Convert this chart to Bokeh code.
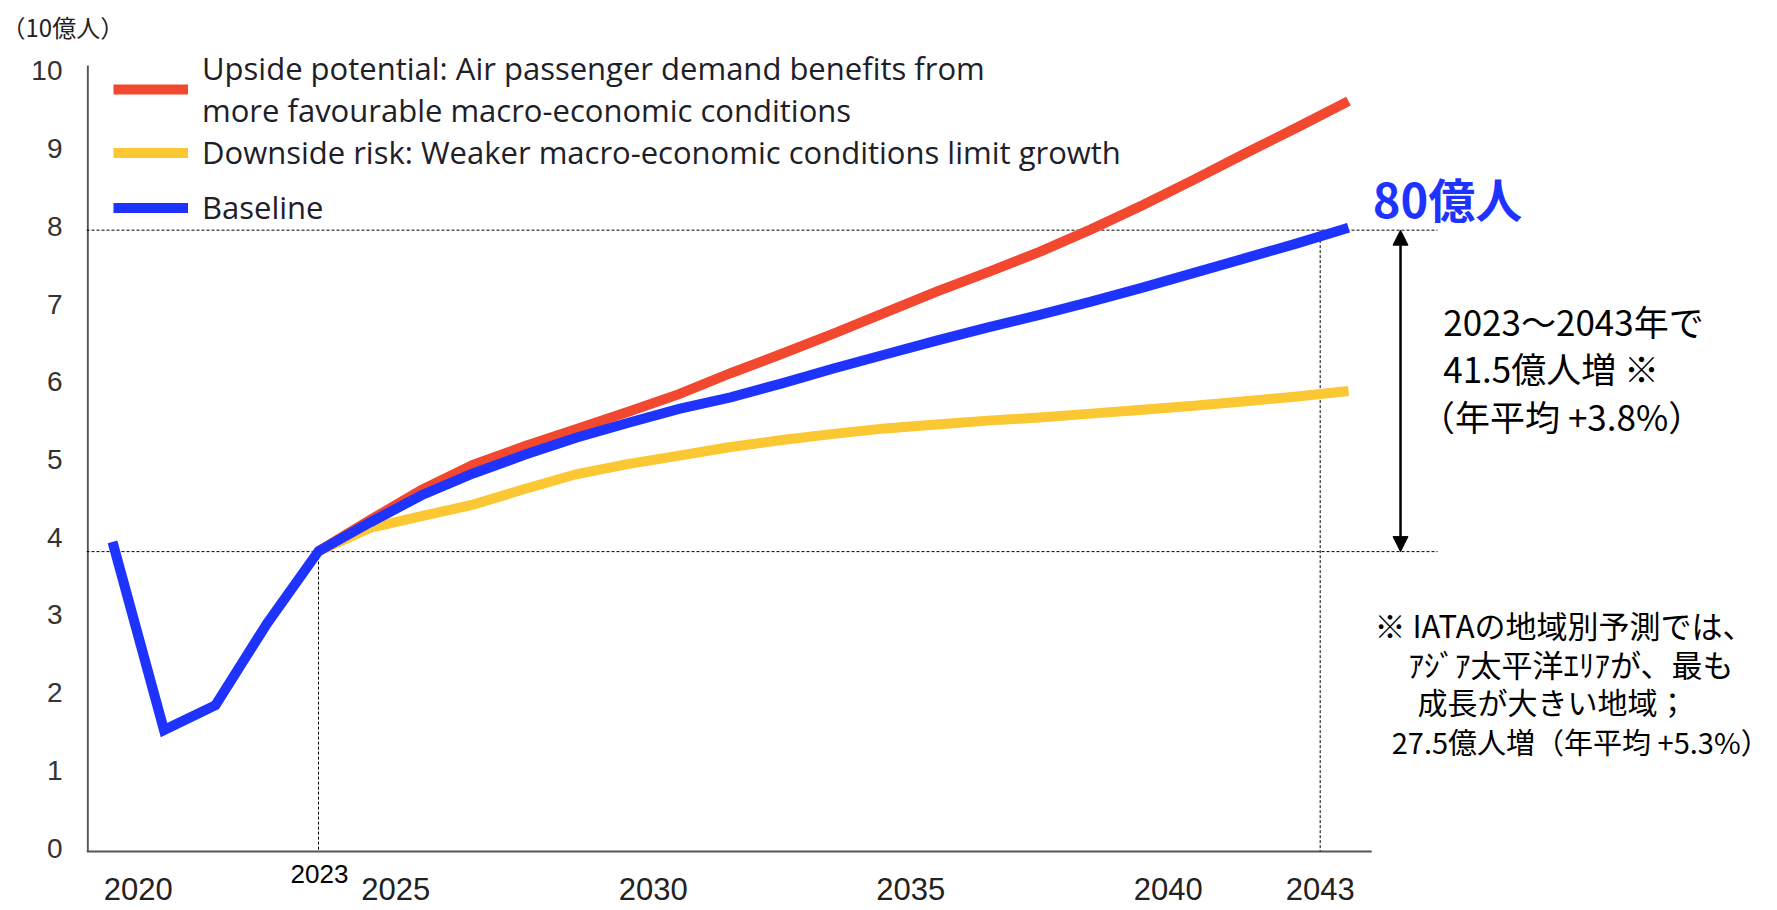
from bokeh.plotting import figure
from bokeh.models import (Range1d, FixedTicker, Label, Arrow, NormalHead, Legend, LegendItem)
from bokeh.embed import file_html
from bokeh.resources import INLINE
from bokeh.core.properties import value

# ---------------- data (10億人) ----------------
years_all = [2019, 2020, 2021, 2022, 2023, 2024, 2025, 2026, 2027, 2028, 2029, 2030,
             2031, 2032, 2033, 2034, 2035, 2036, 2037, 2038, 2039, 2040, 2041, 2042, 2043]
baseline = [3.94, 1.52, 1.84, 2.89, 3.82, 4.19, 4.54, 4.82, 5.06, 5.28, 5.47, 5.65,
            5.80, 5.98, 6.17, 6.35, 6.53, 6.70, 6.86, 7.03, 7.21, 7.40, 7.59, 7.78, 7.98]
years_fc = [2023, 2024, 2025, 2026, 2027, 2028, 2029, 2030, 2031, 2032, 2033,
            2034, 2035, 2036, 2037, 2038, 2039, 2040, 2041, 2042, 2043]
upside = [3.82, 4.22, 4.61, 4.93, 5.17, 5.39, 5.61, 5.84, 6.11, 6.36, 6.62,
          6.89, 7.16, 7.41, 7.67, 7.96, 8.27, 8.60, 8.94, 9.27, 9.61]
downside = [3.82, 4.12, 4.27, 4.42, 4.62, 4.81, 4.94, 5.05, 5.16, 5.25, 5.33,
            5.40, 5.45, 5.50, 5.54, 5.59, 5.64, 5.69, 5.75, 5.81, 5.88]

y_ticks = [0, 1, 2, 3, 4, 5, 6, 7, 8, 9, 10]
x_tick_pos = [2019.5, 2024.5, 2029.5, 2034.5, 2039.5, 2042.45]
x_tick_labels = ["2020", "2025", "2030", "2035", "2040", "2043"]

start_year, start_level = 2023, 3.815     # 2023 level guide
mark_year, end_level = 2042.45, 7.95      # 80億人 guide

label_up = "Upside potential: Air passenger demand benefits from\nmore favourable macro-economic conditions"
label_down = "Downside risk: Weaker macro-economic conditions limit growth"
label_base = "Baseline"

RED = "#F2482F"
YELLOW = "#FBC733"
BLUE = "#1F33FF"
JP = "Noto Sans CJK JP"

# ---------------- figure ----------------
x0, x1 = 2018.495, 2051.33
y0, y1 = -0.776, 10.287
axis_y = -0.042          # level of the drawn x axis line
p = figure(width=1777, height=908, x_range=Range1d(x0, x1), y_range=Range1d(y0, y1),
           output_backend="svg", toolbar_location=None, x_axis_location=None,
           min_border_left=86, min_border_right=0, min_border_top=48, min_border_bottom=0)
p.outline_line_color = None
p.grid.visible = False

# unit caption as title (top-left)
p.title.text = "（10億人）"
p.title.text_font = JP
p.title.text_font_size = "24px"
p.title.text_font_style = "normal"
p.title.text_color = "#222222"
p.title.align = "left"
p.title.offset = -85
p.title.standoff = 10

# y axis (labels from the axis, axis line drawn below)
p.yaxis.ticker = FixedTicker(ticks=y_ticks)
p.yaxis.major_tick_line_color = None
p.yaxis.minor_tick_line_color = None
p.yaxis.major_tick_out = 0
p.yaxis.major_label_standoff = 24
p.yaxis.major_label_text_font = "Liberation Sans"
p.yaxis.major_label_text_font_size = "28px"
p.yaxis.major_label_text_color = "#333333"
p.yaxis.axis_line_color = None

# axis lines
p.segment(x0=[x0 + 0.025, x0], y0=[axis_y, axis_y], x1=[x0 + 0.025, 2043.45], y1=[10.068, axis_y],
          line_color="#555555", line_width=2)

# x tick labels
p.text(x=x_tick_pos, y=[-0.52] * len(x_tick_pos), text=x_tick_labels,
       text_font=value("Liberation Sans"), text_font_size="31px", text_color="#222222",
       text_align="center", text_baseline="middle")

# dotted guide lines
dash = "3 2"
p.segment(x0=[x0, x0, start_year, mark_year], y0=[end_level, start_level, start_level, end_level],
          x1=[2044.73, 2044.73, start_year, mark_year], y1=[end_level, start_level, axis_y, axis_y],
          line_color="black", line_width=1, line_dash=dash)

# series
r_down = p.line(years_fc, downside, line_color=YELLOW, line_width=10, line_join="miter", line_cap="butt")
r_up = p.line(years_fc, upside, line_color=RED, line_width=10, line_join="miter", line_cap="butt")
r_base = p.line(years_all, baseline, line_color=BLUE, line_width=10, line_join="miter", line_cap="butt")

# legends
common = dict(padding=0, margin=0, border_line_color=None, background_fill_alpha=0,
              glyph_width=75, label_standoff=14, label_text_font="Open Sans",
              label_text_font_size="31px", label_text_color="#1e2028")
leg1 = Legend(items=[LegendItem(label=label_up, renderers=[r_up])], location=(27, 777),
              glyph_height=78, label_height=78, **common)
leg2 = Legend(items=[LegendItem(label=label_down, renderers=[r_down]),
                     LegendItem(label=label_base, renderers=[r_base])],
              location=(27, 680), glyph_height=39, label_height=39, spacing=13, **common)
p.add_layout(leg1, "center")
p.add_layout(leg2, "center")

# arrow between the 2023 level and the 2043 level
head = dict(size=15, fill_color="black", line_color="black")
p.add_layout(Arrow(start=NormalHead(**head), end=NormalHead(**head),
                   x_start=2044.01, y_start=start_level, x_end=2044.01, y_end=end_level,
                   line_color="black", line_width=2.5))

def lab(x, y, text, size, color="black", bold=False, font=JP, align="left"):
    p.add_layout(Label(x=x, y=y, text=text, text_font=font, text_font_size=size,
                       text_color=color, text_font_style="bold" if bold else "normal",
                       text_align=align, text_baseline="middle"))

lab(2023.02, -0.338, "2023", "26px", font="Liberation Sans", align="center")
lab(2043.47, 8.375, "80億人", "47px", color=BLUE, bold=True)
lab(2044.84, 6.794, "2023～2043年で", "35px")
lab(2044.84, 6.182, "41.5億人増 ※", "35px")
lab(2044.39, 5.57, "（年平均 +3.8%）", "35px")
lab(2043.505, 2.872, "※ IATAの地域別予測では、", "31px")
lab(2044.165, 2.377, "ｱｼﾞｱ太平洋ｴﾘｱが、最も", "31px")
lab(2044.34, 1.896, "成長が大きい地域；", "30px")
lab(2043.84, 1.385, "27.5億人増（年平均 +5.3%）", "29px")

open("out.html", "w").write(file_html(p, INLINE))
